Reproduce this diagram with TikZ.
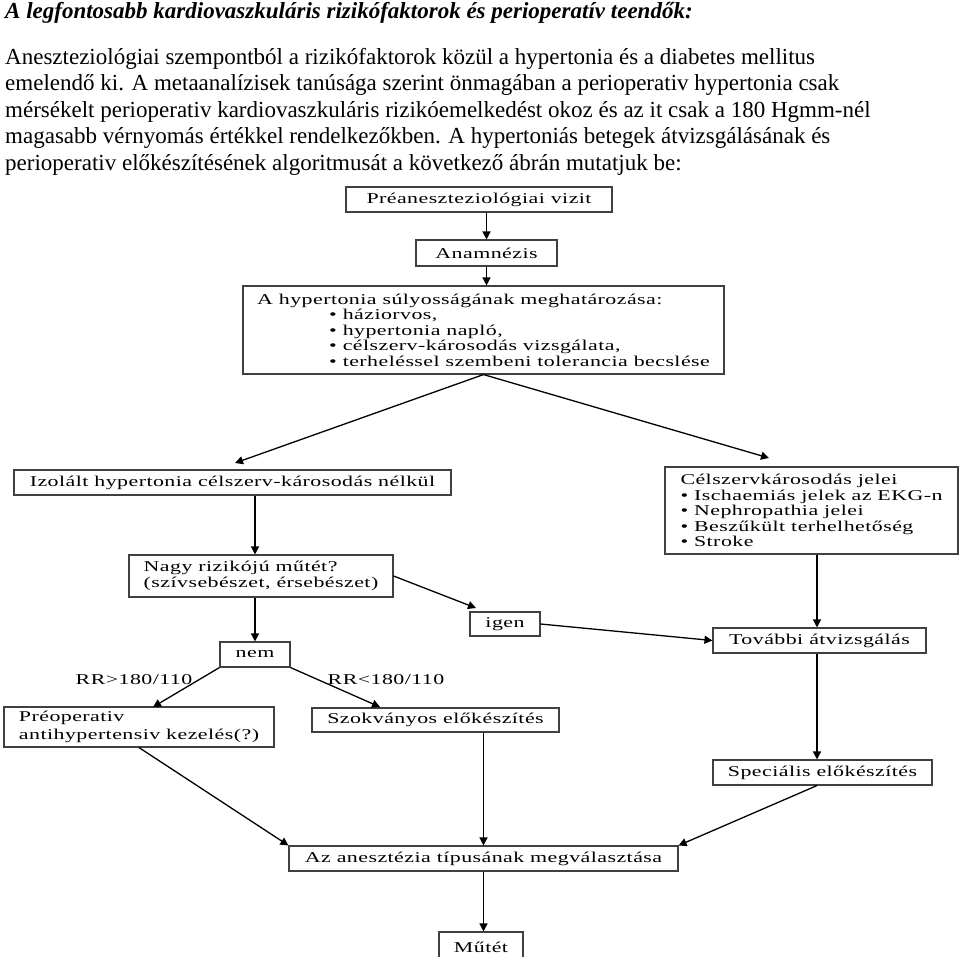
\documentclass[tikz,border=0pt]{standalone}
\usepackage{fontspec}
\setmainfont{Liberation Serif}
\newfontfamily\dia[FakeStretch=1.46,LetterSpace=3]{Liberation Serif}
\usetikzlibrary{arrows.meta,calc}
\begin{document}
\begin{tikzpicture}[x=1pt,y=-1pt,
  box/.style={draw=black!75,line width=1.1pt,inner sep=0pt,font=\dia\fontsize{15}{15.5}\selectfont},
  lab/.style={inner sep=0pt,font=\dia\fontsize{15}{15.5}\selectfont},
  arr/.style={line width=1.3pt,-{Triangle[length=8pt,width=8pt]}},
  ln/.style={anchor=base west,inner sep=0pt,font=\fontsize{23}{26}\selectfont}]
\useasboundingbox (0,0) rectangle (960,956);
\clip (0,0) rectangle (960,956);
\fill[white] (0,0) rectangle (960,956);
\node[anchor=base west,inner sep=0pt,font=\bfseries\itshape\fontsize{23}{26}\selectfont] (title) at (5,18) {A legfontosabb kardiovaszkuláris rizikófaktorok és perioperatív teendők:};
\node[ln] (l1) at (5,64) {Aneszteziológiai szempontból a rizikófaktorok közül a hypertonia és a diabetes mellitus};
\node[ln] (l2) at (5,90.5) {emelendő ki. A metaanalízisek tanúsága szerint önmagában a perioperativ hypertonia csak};
\node[ln] (l3) at (5,117) {mérsékelt perioperativ kardiovaszkuláris rizikóemelkedést okoz és az it csak a 180 Hgmm-nél};
\node[ln] (l4) at (5,143.5) {magasabb vérnyomás értékkel rendelkezőkben. A hypertoniás betegek átvizsgálásának és};
\node[ln] (l5) at (5,170) {perioperativ előkészítésének algoritmusát a következő ábrán mutatjuk be:};

\node[box,minimum width=266,minimum height=25] (pre) at (479,199.5) {Préaneszteziológiai vizit};
\node[box,minimum width=141,minimum height=26] (anam) at (486.5,253) {Anamnézis};
\node[box,minimum width=481,minimum height=88,align=left] (hyp) at (483.5,330)
  {A hypertonia súlyosságának meghatározása:\\
   \hspace*{72pt}• háziorvos,\\
   \hspace*{72pt}• hypertonia napló,\\
   \hspace*{72pt}• célszerv-károsodás vizsgálata,\\
   \hspace*{72pt}• terheléssel szembeni tolerancia becslése};
\node[box,minimum width=437,minimum height=25] (izol) at (232.5,482.5) {Izolált hypertonia célszerv-károsodás nélkül};
\node[box,minimum width=293,minimum height=87,align=left] (celsz) at (811.5,510.5)
  {Célszervkárosodás jelei\\
   • Ischaemiás jelek az EKG-n\\
   • Nephropathia jelei\\
   • Beszűkült terhelhetőség\\
   • Stroke};
\node[box,minimum width=264,minimum height=42,align=left] (nagy) at (261,576)
  {Nagy rizikójú műtét?\\(szívsebészet, érsebészet)};
\node[box,minimum width=70,minimum height=24] (igen) at (505,624) {igen};
\node[box,minimum width=213,minimum height=25] (tovabbi) at (819.5,640.5) {További átvizsgálás};
\node[box,minimum width=70,minimum height=25] (nem) at (255,654.5) {nem};
\node[lab] (rr1) at (134,680) {RR>180/110};
\node[lab] (rr2) at (386,680) {RR<180/110};
\node[box,minimum width=270,minimum height=40,align=left,font=\dia\fontsize{15}{17.5}\selectfont] (preop) at (139,727)
  {Préoperativ\\antihypertensiv kezelés(?)};
\node[box,minimum width=247,minimum height=24] (szok) at (435.5,720) {Szokványos előkészítés};
\node[box,minimum width=219,minimum height=25] (spec) at (822.5,772.5) {Speciális előkészítés};
\node[box,minimum width=389,minimum height=25] (anest) at (483.5,858.5) {Az anesztézia típusának megválasztása};
\node[box,minimum width=84,minimum height=30] (mutet) at (481,947) {Műtét};

\coordinate (izolin) at (235,463);
\coordinate (celszin) at (769,458);
\coordinate (igenin) at (476,608);
\coordinate (preopin) at (153,707);
\coordinate (szokin) at (380,707);

\draw[arr] (anam.north |- pre.south) -- (anam.north);
\draw[arr] (anam.south) -- (anam.south |- hyp.north);
\draw[arr] (hyp.south) -- (izolin);
\draw[arr] (hyp.south) -- (celszin);
\draw[arr] (izol.south -| nem.north) -- (nagy.north -| nem.north);
\draw[arr] (nagy.south -| nem.north) -- (nem.north);
\draw[arr] (nagy.east) -- (igenin);
\draw[arr] (igen.east) -- (tovabbi.west);
\draw[arr] (817,0 |- celsz.south) -- (817,0 |- tovabbi.north);
\draw[arr] (817,0 |- tovabbi.south) -- (817,0 |- spec.north);
\draw[arr] (nem.south west) -- (preopin);
\draw[arr] (nem.south east) -- (szokin);
\draw[arr] (preop.south) -- (anest.north west);
\draw[arr] (anest.north |- szok.south) -- (anest.north);
\draw[arr] (817,0 |- spec.south) -- (anest.north east);
\draw[arr] (anest.south) -- (anest.south |- mutet.north);
\end{tikzpicture}
\end{document}
